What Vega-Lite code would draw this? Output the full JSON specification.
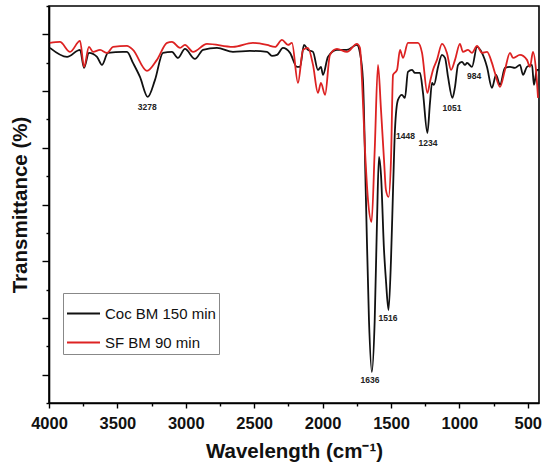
{
  "$schema": "https://vega.github.io/schema/vega-lite/v6.json",
  "width": 490,
  "height": 397,
  "autosize": {"type": "none"},
  "padding": {"left": 49, "top": 6, "right": 11, "bottom": 69},
  "background": "white",
  "datasets": {
    "spectra": [
      {"wn": 3993, "t": 62.61, "sample": "Coc BM 150 min"},
      {"wn": 3868, "t": 61.02, "sample": "Coc BM 150 min"},
      {"wn": 3773, "t": 62.26, "sample": "Coc BM 150 min"},
      {"wn": 3744, "t": 59.08, "sample": "Coc BM 150 min"},
      {"wn": 3708, "t": 61.73, "sample": "Coc BM 150 min"},
      {"wn": 3649, "t": 61.02, "sample": "Coc BM 150 min"},
      {"wn": 3613, "t": 59.61, "sample": "Coc BM 150 min"},
      {"wn": 3569, "t": 61.73, "sample": "Coc BM 150 min"},
      {"wn": 3459, "t": 61.91, "sample": "Coc BM 150 min"},
      {"wn": 3430, "t": 61.91, "sample": "Coc BM 150 min"},
      {"wn": 3386, "t": 59.97, "sample": "Coc BM 150 min"},
      {"wn": 3335, "t": 57.5, "sample": "Coc BM 150 min"},
      {"wn": 3278, "t": 53.97, "sample": "Coc BM 150 min"},
      {"wn": 3225, "t": 56.97, "sample": "Coc BM 150 min"},
      {"wn": 3167, "t": 61.73, "sample": "Coc BM 150 min"},
      {"wn": 3101, "t": 61.91, "sample": "Coc BM 150 min"},
      {"wn": 3057, "t": 60.85, "sample": "Coc BM 150 min"},
      {"wn": 3006, "t": 62.43, "sample": "Coc BM 150 min"},
      {"wn": 2933, "t": 60.67, "sample": "Coc BM 150 min"},
      {"wn": 2874, "t": 62.26, "sample": "Coc BM 150 min"},
      {"wn": 2772, "t": 62.61, "sample": "Coc BM 150 min"},
      {"wn": 2655, "t": 61.91, "sample": "Coc BM 150 min"},
      {"wn": 2531, "t": 62.08, "sample": "Coc BM 150 min"},
      {"wn": 2406, "t": 61.91, "sample": "Coc BM 150 min"},
      {"wn": 2370, "t": 61.2, "sample": "Coc BM 150 min"},
      {"wn": 2333, "t": 61.38, "sample": "Coc BM 150 min"},
      {"wn": 2290, "t": 62.61, "sample": "Coc BM 150 min"},
      {"wn": 2238, "t": 61.73, "sample": "Coc BM 150 min"},
      {"wn": 2187, "t": 59.26, "sample": "Coc BM 150 min"},
      {"wn": 2165, "t": 59.26, "sample": "Coc BM 150 min"},
      {"wn": 2136, "t": 63.14, "sample": "Coc BM 150 min"},
      {"wn": 2107, "t": 62.26, "sample": "Coc BM 150 min"},
      {"wn": 2070, "t": 61.91, "sample": "Coc BM 150 min"},
      {"wn": 2034, "t": 58.73, "sample": "Coc BM 150 min"},
      {"wn": 2012, "t": 59.26, "sample": "Coc BM 150 min"},
      {"wn": 1997, "t": 57.85, "sample": "Coc BM 150 min"},
      {"wn": 1961, "t": 61.02, "sample": "Coc BM 150 min"},
      {"wn": 1895, "t": 62.26, "sample": "Coc BM 150 min"},
      {"wn": 1822, "t": 62.26, "sample": "Coc BM 150 min"},
      {"wn": 1749, "t": 63.14, "sample": "Coc BM 150 min"},
      {"wn": 1727, "t": 61.73, "sample": "Coc BM 150 min"},
      {"wn": 1705, "t": 56.97, "sample": "Coc BM 150 min"},
      {"wn": 1683, "t": 35.8, "sample": "Coc BM 150 min"},
      {"wn": 1661, "t": 14.64, "sample": "Coc BM 150 min"},
      {"wn": 1640, "t": 5.47, "sample": "Coc BM 150 min"},
      {"wn": 1619, "t": 14.64, "sample": "Coc BM 150 min"},
      {"wn": 1602, "t": 32.28, "sample": "Coc BM 150 min"},
      {"wn": 1588, "t": 43.39, "sample": "Coc BM 150 min"},
      {"wn": 1573, "t": 40.21, "sample": "Coc BM 150 min"},
      {"wn": 1551, "t": 26.98, "sample": "Coc BM 150 min"},
      {"wn": 1537, "t": 21.69, "sample": "Coc BM 150 min"},
      {"wn": 1518, "t": 16.4, "sample": "Coc BM 150 min"},
      {"wn": 1500, "t": 25.22, "sample": "Coc BM 150 min"},
      {"wn": 1485, "t": 37.57, "sample": "Coc BM 150 min"},
      {"wn": 1471, "t": 48.15, "sample": "Coc BM 150 min"},
      {"wn": 1449, "t": 53.44, "sample": "Coc BM 150 min"},
      {"wn": 1420, "t": 54.32, "sample": "Coc BM 150 min"},
      {"wn": 1398, "t": 53.79, "sample": "Coc BM 150 min"},
      {"wn": 1376, "t": 58.38, "sample": "Coc BM 150 min"},
      {"wn": 1346, "t": 58.73, "sample": "Coc BM 150 min"},
      {"wn": 1325, "t": 58.2, "sample": "Coc BM 150 min"},
      {"wn": 1288, "t": 58.2, "sample": "Coc BM 150 min"},
      {"wn": 1266, "t": 54.67, "sample": "Coc BM 150 min"},
      {"wn": 1234, "t": 47.62, "sample": "Coc BM 150 min"},
      {"wn": 1215, "t": 52.91, "sample": "Coc BM 150 min"},
      {"wn": 1200, "t": 56.44, "sample": "Coc BM 150 min"},
      {"wn": 1186, "t": 56.09, "sample": "Coc BM 150 min"},
      {"wn": 1156, "t": 59.26, "sample": "Coc BM 150 min"},
      {"wn": 1127, "t": 61.38, "sample": "Coc BM 150 min"},
      {"wn": 1105, "t": 60.85, "sample": "Coc BM 150 min"},
      {"wn": 1083, "t": 57.5, "sample": "Coc BM 150 min"},
      {"wn": 1051, "t": 53.79, "sample": "Coc BM 150 min"},
      {"wn": 1032, "t": 55.73, "sample": "Coc BM 150 min"},
      {"wn": 1010, "t": 59.61, "sample": "Coc BM 150 min"},
      {"wn": 981, "t": 60.14, "sample": "Coc BM 150 min"},
      {"wn": 959, "t": 59.61, "sample": "Coc BM 150 min"},
      {"wn": 944, "t": 59.97, "sample": "Coc BM 150 min"},
      {"wn": 908, "t": 59.26, "sample": "Coc BM 150 min"},
      {"wn": 871, "t": 62.79, "sample": "Coc BM 150 min"},
      {"wn": 835, "t": 61.73, "sample": "Coc BM 150 min"},
      {"wn": 798, "t": 59.26, "sample": "Coc BM 150 min"},
      {"wn": 762, "t": 55.56, "sample": "Coc BM 150 min"},
      {"wn": 732, "t": 57.85, "sample": "Coc BM 150 min"},
      {"wn": 703, "t": 56.09, "sample": "Coc BM 150 min"},
      {"wn": 667, "t": 59.08, "sample": "Coc BM 150 min"},
      {"wn": 630, "t": 59.26, "sample": "Coc BM 150 min"},
      {"wn": 594, "t": 59.08, "sample": "Coc BM 150 min"},
      {"wn": 557, "t": 59.61, "sample": "Coc BM 150 min"},
      {"wn": 535, "t": 57.85, "sample": "Coc BM 150 min"},
      {"wn": 506, "t": 59.26, "sample": "Coc BM 150 min"},
      {"wn": 469, "t": 59.61, "sample": "Coc BM 150 min"},
      {"wn": 455, "t": 56.09, "sample": "Coc BM 150 min"},
      {"wn": 433, "t": 58.73, "sample": "Coc BM 150 min"},
      {"wn": 418, "t": 58.73, "sample": "Coc BM 150 min"},
      {"wn": 3993, "t": 63.49, "sample": "SF BM 90 min"},
      {"wn": 3920, "t": 63.67, "sample": "SF BM 90 min"},
      {"wn": 3846, "t": 61.91, "sample": "SF BM 90 min"},
      {"wn": 3773, "t": 63.85, "sample": "SF BM 90 min"},
      {"wn": 3744, "t": 59.26, "sample": "SF BM 90 min"},
      {"wn": 3708, "t": 62.79, "sample": "SF BM 90 min"},
      {"wn": 3678, "t": 61.91, "sample": "SF BM 90 min"},
      {"wn": 3627, "t": 62.26, "sample": "SF BM 90 min"},
      {"wn": 3576, "t": 61.73, "sample": "SF BM 90 min"},
      {"wn": 3532, "t": 62.79, "sample": "SF BM 90 min"},
      {"wn": 3430, "t": 62.96, "sample": "SF BM 90 min"},
      {"wn": 3386, "t": 62.26, "sample": "SF BM 90 min"},
      {"wn": 3284, "t": 58.55, "sample": "SF BM 90 min"},
      {"wn": 3211, "t": 60.5, "sample": "SF BM 90 min"},
      {"wn": 3137, "t": 63.49, "sample": "SF BM 90 min"},
      {"wn": 3101, "t": 63.67, "sample": "SF BM 90 min"},
      {"wn": 3042, "t": 62.61, "sample": "SF BM 90 min"},
      {"wn": 3006, "t": 63.14, "sample": "SF BM 90 min"},
      {"wn": 2947, "t": 61.91, "sample": "SF BM 90 min"},
      {"wn": 2845, "t": 63.32, "sample": "SF BM 90 min"},
      {"wn": 2655, "t": 62.79, "sample": "SF BM 90 min"},
      {"wn": 2509, "t": 63.49, "sample": "SF BM 90 min"},
      {"wn": 2406, "t": 63.14, "sample": "SF BM 90 min"},
      {"wn": 2348, "t": 62.79, "sample": "SF BM 90 min"},
      {"wn": 2297, "t": 64.02, "sample": "SF BM 90 min"},
      {"wn": 2253, "t": 63.14, "sample": "SF BM 90 min"},
      {"wn": 2224, "t": 63.49, "sample": "SF BM 90 min"},
      {"wn": 2180, "t": 56.44, "sample": "SF BM 90 min"},
      {"wn": 2143, "t": 62.26, "sample": "SF BM 90 min"},
      {"wn": 2107, "t": 62.61, "sample": "SF BM 90 min"},
      {"wn": 2070, "t": 59.61, "sample": "SF BM 90 min"},
      {"wn": 2034, "t": 54.67, "sample": "SF BM 90 min"},
      {"wn": 2012, "t": 56.44, "sample": "SF BM 90 min"},
      {"wn": 1982, "t": 54.32, "sample": "SF BM 90 min"},
      {"wn": 1946, "t": 61.38, "sample": "SF BM 90 min"},
      {"wn": 1895, "t": 62.43, "sample": "SF BM 90 min"},
      {"wn": 1822, "t": 61.91, "sample": "SF BM 90 min"},
      {"wn": 1749, "t": 63.32, "sample": "SF BM 90 min"},
      {"wn": 1727, "t": 62.61, "sample": "SF BM 90 min"},
      {"wn": 1712, "t": 56.97, "sample": "SF BM 90 min"},
      {"wn": 1690, "t": 44.62, "sample": "SF BM 90 min"},
      {"wn": 1668, "t": 35.8, "sample": "SF BM 90 min"},
      {"wn": 1642, "t": 31.92, "sample": "SF BM 90 min"},
      {"wn": 1619, "t": 44.62, "sample": "SF BM 90 min"},
      {"wn": 1595, "t": 59.61, "sample": "SF BM 90 min"},
      {"wn": 1573, "t": 51.68, "sample": "SF BM 90 min"},
      {"wn": 1551, "t": 42.86, "sample": "SF BM 90 min"},
      {"wn": 1537, "t": 37.57, "sample": "SF BM 90 min"},
      {"wn": 1518, "t": 36.33, "sample": "SF BM 90 min"},
      {"wn": 1500, "t": 42.86, "sample": "SF BM 90 min"},
      {"wn": 1485, "t": 57.85, "sample": "SF BM 90 min"},
      {"wn": 1456, "t": 58.73, "sample": "SF BM 90 min"},
      {"wn": 1434, "t": 62.26, "sample": "SF BM 90 min"},
      {"wn": 1412, "t": 60.85, "sample": "SF BM 90 min"},
      {"wn": 1376, "t": 63.49, "sample": "SF BM 90 min"},
      {"wn": 1303, "t": 63.49, "sample": "SF BM 90 min"},
      {"wn": 1273, "t": 61.73, "sample": "SF BM 90 min"},
      {"wn": 1234, "t": 54.67, "sample": "SF BM 90 min"},
      {"wn": 1215, "t": 56.61, "sample": "SF BM 90 min"},
      {"wn": 1193, "t": 58.73, "sample": "SF BM 90 min"},
      {"wn": 1164, "t": 60.5, "sample": "SF BM 90 min"},
      {"wn": 1127, "t": 63.32, "sample": "SF BM 90 min"},
      {"wn": 1091, "t": 61.73, "sample": "SF BM 90 min"},
      {"wn": 1061, "t": 58.73, "sample": "SF BM 90 min"},
      {"wn": 1032, "t": 60.5, "sample": "SF BM 90 min"},
      {"wn": 996, "t": 63.32, "sample": "SF BM 90 min"},
      {"wn": 974, "t": 61.91, "sample": "SF BM 90 min"},
      {"wn": 937, "t": 62.26, "sample": "SF BM 90 min"},
      {"wn": 908, "t": 61.73, "sample": "SF BM 90 min"},
      {"wn": 871, "t": 62.96, "sample": "SF BM 90 min"},
      {"wn": 835, "t": 61.73, "sample": "SF BM 90 min"},
      {"wn": 798, "t": 61.91, "sample": "SF BM 90 min"},
      {"wn": 762, "t": 59.97, "sample": "SF BM 90 min"},
      {"wn": 740, "t": 58.2, "sample": "SF BM 90 min"},
      {"wn": 703, "t": 55.73, "sample": "SF BM 90 min"},
      {"wn": 667, "t": 58.73, "sample": "SF BM 90 min"},
      {"wn": 630, "t": 61.73, "sample": "SF BM 90 min"},
      {"wn": 608, "t": 60.85, "sample": "SF BM 90 min"},
      {"wn": 557, "t": 61.38, "sample": "SF BM 90 min"},
      {"wn": 506, "t": 60.5, "sample": "SF BM 90 min"},
      {"wn": 484, "t": 59.26, "sample": "SF BM 90 min"},
      {"wn": 462, "t": 61.91, "sample": "SF BM 90 min"},
      {"wn": 440, "t": 58.73, "sample": "SF BM 90 min"},
      {"wn": 425, "t": 53.79, "sample": "SF BM 90 min"}
    ],
    "peaks": [
      {"label": "3278", "wn": 3282, "t": 52.21},
      {"label": "1448", "wn": 1394, "t": 47.09},
      {"label": "1234", "wn": 1229, "t": 45.86},
      {"label": "1051", "wn": 1054, "t": 52.03},
      {"label": "984", "wn": 893, "t": 57.67},
      {"label": "1516", "wn": 1522, "t": 14.99},
      {"label": "1636", "wn": 1653, "t": 4.06}
    ]
  },
  "layer": [
    {
      "data": {"name": "spectra"},
      "mark": {"type": "line", "strokeWidth": 1.8, "strokeJoin": "round", "interpolate": "monotone", "clip": true},
      "encoding": {
        "x": {
          "field": "wn",
          "type": "quantitative",
          "scale": {"domain": [4000, 418], "nice": false, "zero": false},
          "axis": {
            "orient": "bottom",
            "title": "Wavelength (cm⁻¹)",
            "values": [4000, 3500, 3000, 2500, 2000, 1500, 1000, 500],
            "format": "d",
            "labelFlush": false,
            "labelOverlap": false,
            "tickSize": 5,
            "labelPadding": 7,
            "titlePadding": 10
          }
        },
        "y": {
          "field": "t",
          "type": "quantitative",
          "scale": {"domain": [0, 70], "nice": false, "zero": false},
          "axis": {
            "orient": "left",
            "title": "Transmittance (%)",
            "values": [5, 15, 25, 35, 45, 55, 65],
            "labels": false,
            "tickSize": 7,
            "titlePadding": 11
          }
        },
        "color": {
          "field": "sample",
          "type": "nominal",
          "scale": {"domain": ["Coc BM 150 min", "SF BM 90 min"], "range": ["#111111", "#dd2222"]},
          "legend": {
            "orient": "none",
            "legendX": 14,
            "legendY": 287,
            "title": null,
            "symbolType": "stroke",
            "symbolSize": 1089,
            "symbolStrokeWidth": 2,
            "labelFontSize": 15,
            "labelFont": "Liberation Sans",
            "labelColor": "#111",
            "labelOffset": 4,
            "rowPadding": 3,
            "padding": 3,
            "strokeColor": "#888",
            "fillColor": "white"
          }
        }
      }
    },
    {
      "data": {"name": "peaks"},
      "mark": {"type": "text", "fontSize": 8.5, "fontWeight": "bold", "font": "Liberation Sans", "color": "#222", "baseline": "middle", "align": "center"},
      "encoding": {
        "x": {
          "field": "wn",
          "type": "quantitative",
          "axis": {
            "orient": "bottom",
            "title": null,
            "values": [3750, 3250, 2750, 2250, 1750, 1250, 750],
            "labels": false,
            "domain": false,
            "tickSize": 3
          }
        },
        "y": {
          "field": "t",
          "type": "quantitative",
          "axis": {
            "orient": "left",
            "title": null,
            "values": [0, 10, 20, 30, 40, 50, 60, 70],
            "labels": false,
            "domain": false,
            "tickSize": 3
          }
        },
        "text": {"field": "label"}
      }
    }
  ],
  "resolve": {"axis": {"x": "independent", "y": "independent"}},
  "config": {
    "view": {"stroke": "black", "strokeWidth": 1.6},
    "axis": {
      "grid": false,
      "domainColor": "black",
      "domainWidth": 1.6,
      "tickColor": "black",
      "tickWidth": 1.4,
      "labelFont": "Liberation Sans",
      "labelFontSize": 16.5,
      "labelFontWeight": "bold",
      "labelColor": "#111",
      "titleFont": "Liberation Sans",
      "titleFontSize": 20.5,
      "titleFontWeight": "bold",
      "titleColor": "#111"
    }
  }
}
